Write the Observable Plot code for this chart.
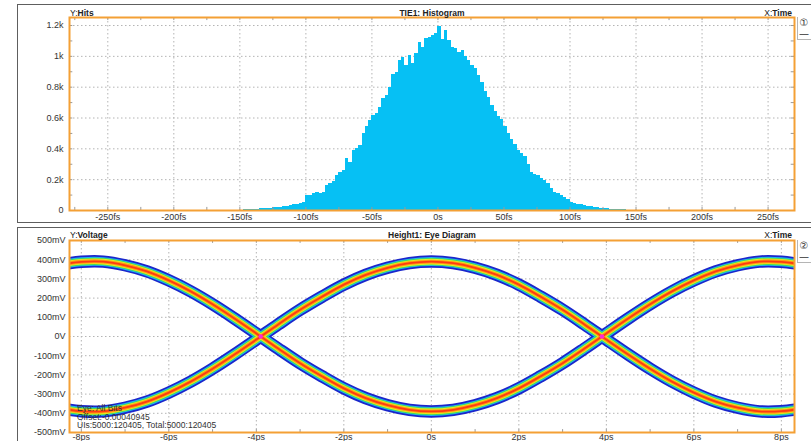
<!DOCTYPE html>
<html><head><meta charset="utf-8">
<script src="https://cdn.jsdelivr.net/npm/d3@7"></script>
<script src="https://cdn.jsdelivr.net/npm/@observablehq/plot@0.6"></script>
<style>
html,body{margin:0;padding:0;background:#fff;width:811px;height:441px;overflow:hidden;font-family:"Liberation Sans",Arial,sans-serif;}
#root{position:relative;width:811px;height:441px;overflow:hidden;}
.frame{position:absolute;border:1.5px solid #5e5e5e;border-right:none;box-sizing:border-box;}
.ttl{position:absolute;font-size:8.5px;color:#222;white-space:nowrap;line-height:10px;}
.ico{position:absolute;font-size:10px;color:#333;line-height:10px;transform:translate(-50%,-50%);font-family:"DejaVu Sans",sans-serif;}
.side{position:absolute;border-left:1px solid #b5b5b5;border-bottom:1px solid #b5b5b5;box-sizing:border-box;}
.note{position:absolute;font-size:8.5px;line-height:8.6px;color:#333;white-space:nowrap;}
.plotbox{position:absolute;left:0;}
</style></head><body><div id="root">
<div class="frame" style="left:17px;top:4px;width:800px;height:219px;"></div>
<div class="frame" style="left:17px;top:227px;width:800px;height:240px;"></div>
<div id="p1" class="plotbox" style="top:0px;"></div>
<div id="p2" class="plotbox" style="top:228px;"></div>
<div class="side" style="left:797px;top:17px;width:14px;height:23px;"></div>
<div class="side" style="left:797px;top:240px;width:14px;height:23px;"></div>
<div class="ico" style="left:804px;top:23px;">①</div>
<div class="ico" style="left:804px;top:34px;">—</div>
<div class="ico" style="left:804px;top:246px;">②</div>
<div class="ico" style="left:804px;top:257px;">—</div>
<div class="ttl" style="left:70px;top:8px;">Y:<b>Hits</b></div>
<div class="ttl" style="left:432px;top:8px;transform:translateX(-50%);"><b>TIE1: Histogram</b></div>
<div class="ttl" style="right:19px;top:8px;">X:<b>Time</b></div>
<div class="ttl" style="left:70px;top:230px;">Y:<b>Voltage</b></div>
<div class="ttl" style="left:432px;top:230px;transform:translateX(-50%);"><b>Height1: Eye Diagram</b></div>
<div class="ttl" style="right:19px;top:230px;">X:<b>Time</b></div>
<div class="note" style="left:77px;top:404px;">Eye: All Bits<br>Offset:-0.00040945<br>UIs:5000:120405, Total:5000:120405</div>
</div>
<script>
// ---------- Histogram data (TIE1) ----------
const histBinStart = -150;      // fs, left edge of first bin
const histBinWidth = 2.5;       // fs
const tieHits = [
  3,4,5,6,7,8,10,11,13,15,17,19,22,25,28,32,36,40,45,50,
  95,100,112,115,113,119,160,173,190,225,249,259,335,313,389,400,420,497,545,584,
  616,627,666,724,746,800,882,897,973,995,940,1005,955,1020,1092,1060,1113,1124,1135,1146,
  1195,1110,1170,1103,1060,1049,1027,1038,1000,973,940,919,876,830,770,735,680,640,610,590,
  545,500,460,430,390,370,350,300,245,235,225,210,195,175,145,120,108,100,85,70,
  55,48,42,36,32,28,24,20,17,14,12,10,8,7,6,5,4,3,3,2
];
const histXTicks = [-250,-200,-150,-100,-50,0,50,100,150,200,250];
const histXMinor = [-275,-250,-225,-200,-175,-150,-125,-100,-75,-50,-25,0,25,50,75,100,125,150,175,200,225,250];
const histYTicks = [0,200,400,600,800,1000,1200];
const histYMinor = [100,200,300,400,500,600,700,800,900,1000,1100,1200];

// ---------- Eye diagram data (Height1) ----------
const eyeTime = [-8.5,-8,-7.5,-7,-6.5,-6,-5.5,-5,-4.5,-4,-3.5,-3,-2.5,-2,-1.5,-1,-0.5,0,
                 0.5,1,1.5,2,2.5,3,3.5,4,4.5,5,5.5,6,6.5,7,7.5,8,8.5];
const eyeTraceA = [374,389,390,371,339,292,235,168,94,16,-63,-139,-207,-270,-321,-358,-382,-390,
                   -382,-358,-321,-270,-207,-139,-63,16,94,168,235,292,339,371,390,389,374];
const eyeTraceB = [-374,-389,-390,-371,-339,-292,-235,-168,-94,-16,63,139,207,270,321,358,382,390,
                   382,358,321,270,207,139,63,-16,-94,-168,-235,-292,-339,-371,-390,-389,-374];
const eyeCrossT = [-3.9, 3.9];
const eyeCrossV = [0, 0];
const eyeXTicks = [-8,-6,-4,-2,0,2,4,6,8];
const eyeYTicks = [-500,-400,-300,-200,-100,0,100,200,300,400,500];
const eyeXMinor = [-8,-7,-6,-5,-4,-3,-2,-1,0,1,2,3,4,5,6,7,8];

// band layers from outside to inside
const bandColors = ["#1a26cc","#1fb4f2","#3fdc5c","#e6ee22","#ff9a12","#ff3a12"];
const bandWidths = [12.5, 9, 7.2, 5.6, 3.9, 1.8];

const ORANGE = "#f4a035";
const GRID = "#b4b4b4";
const plotStyle = {background:"none", overflow:"visible", fontFamily:"'Liberation Sans', Arial, sans-serif", fontSize:"9px", color:"#333"};

// tables
const histBins = tieHits.map((h,i)=>({x1: histBinStart + i*histBinWidth, x2: histBinStart + (i+1)*histBinWidth, hits: h}));
const eyeRows = [];
eyeTime.forEach((t,i)=>{ eyeRows.push({t, v: eyeTraceA[i], trace:"A"}); });
eyeTime.forEach((t,i)=>{ eyeRows.push({t, v: eyeTraceB[i], trace:"B"}); });
const crossRows = eyeCrossT.map((t,i)=>({t, v: eyeCrossV[i]}));

// ---------- Panel 1 ----------
const hxMin = -279, hxMax = 270, hyMax = 1252;
const hist = Plot.plot({
  width: 811, height: 225,
  marginLeft: 69, marginRight: 17, marginTop: 17, marginBottom: 15,
  style: plotStyle,
  x: {domain: [hxMin, hxMax], label: null},
  y: {domain: [0, hyMax], label: null},
  marks: [
    Plot.gridX(histXTicks, {stroke: GRID, strokeOpacity: 1, strokeDasharray: "1.5,2.5"}),
    Plot.gridY(histYTicks.filter(d=>d>0), {stroke: GRID, strokeOpacity: 1, strokeDasharray: "1.5,2.5"}),
    Plot.rectY(histBins, {x1: "x1", x2: "x2", y: "hits", fill: "#06c0f4", shapeRendering: "crispEdges"}),
    Plot.ruleX(histXMinor, {x: d=>d, y1: hyMax, y2: hyMax-20, stroke: "#999"}),
    Plot.ruleX(histXMinor, {x: d=>d, y1: 0, y2: 20, stroke: "#999"}),
    Plot.ruleY(histYMinor, {y: d=>d, x1: hxMin, x2: hxMin+2.5, stroke: "#999"}),
    Plot.ruleY(histYMinor, {y: d=>d, x1: hxMax, x2: hxMax-2.5, stroke: "#999"}),
    Plot.frame({stroke: ORANGE, strokeWidth: 2}),
    Plot.axisX(histXTicks, {tickSize: 0, tickPadding: 3, tickFormat: d => d === 0 ? "0s" : d + "fs", fill: "#333", label: null}),
    Plot.axisY(histYTicks, {tickSize: 0, tickPadding: 6, tickFormat: d => d === 0 ? "0" : (d/1000) + "k", fill: "#333", label: null})
  ]
});
document.getElementById("p1").appendChild(hist);

// ---------- Panel 2 ----------
const exMin = -8.27, exMax = 8.3;
const bandMarks = [];
bandColors.forEach((c,k)=>{
  bandMarks.push(Plot.line(eyeRows, {x: "t", y: "v", z: "trace", stroke: c, strokeWidth: bandWidths[k], curve: "catmull-rom", clip: true}));
});
const eye = Plot.plot({
  width: 811, height: 213,
  marginLeft: 69, marginRight: 17, marginTop: 12, marginBottom: 9,
  style: plotStyle,
  x: {domain: [exMin, exMax], label: null},
  y: {domain: [-500, 500], label: null},
  marks: [
    Plot.gridX(eyeXTicks, {stroke: GRID, strokeOpacity: 1, strokeDasharray: "1.5,2.5"}),
    Plot.gridY(eyeYTicks.filter(d=>Math.abs(d)<500), {stroke: GRID, strokeOpacity: 1, strokeDasharray: "1.5,2.5"}),
    ...bandMarks,
    Plot.dot(crossRows, {x: "t", y: "v", r: 2.3, fill: "#ff2ad2", stroke: null}),
    Plot.ruleX(eyeXMinor, {x: d=>d, y1: 500, y2: 485, stroke: "#999"}),
    Plot.ruleX(eyeXMinor, {x: d=>d, y1: -500, y2: -485, stroke: "#999"}),
    Plot.frame({stroke: ORANGE, strokeWidth: 2}),
    Plot.axisX(eyeXTicks, {tickSize: 0, tickPadding: 1, tickFormat: d => d === 0 ? "0s" : d + "ps", fill: "#333", label: null}),
    Plot.axisY(eyeYTicks, {tickSize: 0, tickPadding: 4, tickFormat: d => d === 0 ? "0V" : d + "mV", fill: "#333", label: null})
  ]
});
document.getElementById("p2").appendChild(eye);
</script></body></html>
